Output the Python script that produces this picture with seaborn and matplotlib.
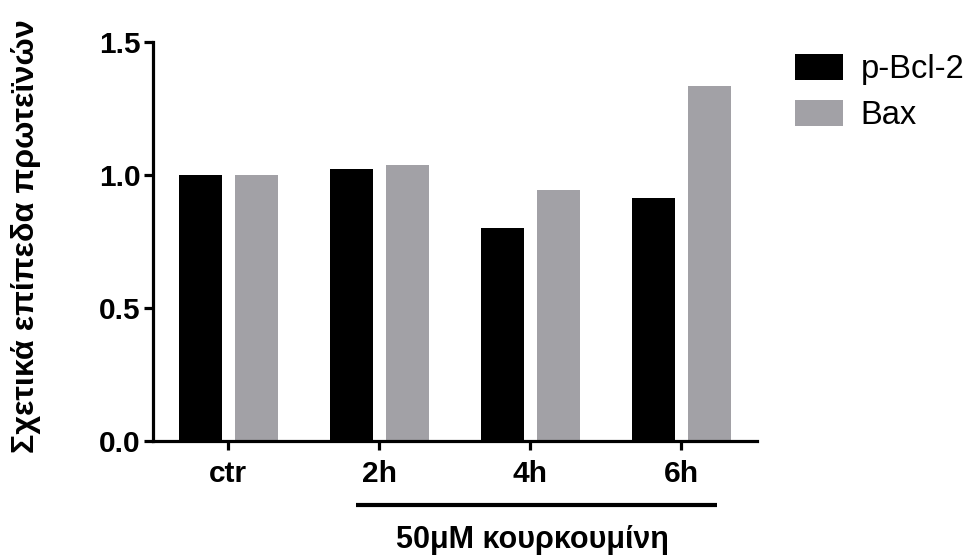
import matplotlib
matplotlib.use("Agg")
import matplotlib.pyplot as plt
import matplotlib.transforms as mtransforms
import seaborn as sns
import pandas as pd

# Relative protein levels per time point
categories = ["ctr", "2h", "4h", "6h"]
p_bcl2 = [1.00, 1.022, 0.80, 0.915]
bax = [1.00, 1.036, 0.945, 1.335]
series_names = ["p-Bcl-2", "Bax"]
y_ticks = [0.0, 0.5, 1.0, 1.5]
y_label = "Σχετικά επίπεδα πρωτεϊνών"
treatment_label = "50μM κουρκουμίνη"

df = pd.DataFrame({
    "time": categories * 2,
    "value": p_bcl2 + bax,
    "protein": [series_names[0]] * len(categories) + [series_names[1]] * len(categories),
})

sns.set_style("ticks")
plt.rcParams["font.family"] = ["Liberation Sans", "DejaVu Sans"]
plt.rcParams["text.color"] = "black"
plt.rcParams["axes.labelcolor"] = "black"
plt.rcParams["xtick.color"] = "black"
plt.rcParams["ytick.color"] = "black"

fig = plt.figure(figsize=(9.73, 5.57), dpi=100)
ax = fig.add_axes([0.157, 0.2083, 0.621, 0.7163])

palette = {"p-Bcl-2": "#000000", "Bax": "#a2a1a6"}
sns.barplot(data=df, x="time", y="value", hue="protein", order=categories,
            hue_order=series_names, palette=palette, width=0.748, gap=0.238,
            saturation=1, linewidth=0, ax=ax, legend=True)

ax.set_xlim(-0.5, 3.5)
ax.set_ylim(0, 1.5)
ax.set_yticks(y_ticks)
ax.set_yticklabels([f"{t:.1f}" for t in y_ticks])
ax.set_xlabel("")
ax.set_ylabel("")

for s in ["top", "right"]:
    ax.spines[s].set_visible(False)
for s in ["left", "bottom"]:
    ax.spines[s].set_linewidth(2.3)
    ax.spines[s].set_color("black")
ax.tick_params(axis="both", length=6.5, width=2.3, color="black", labelcolor="black")
ax.tick_params(axis="y", labelsize=21.5, pad=2)
ax.tick_params(axis="x", labelsize=21.5, pad=7)
for lab in ax.get_xticklabels() + ax.get_yticklabels():
    lab.set_fontweight("bold")

fig.text(0.027, 1 - 236 / 557, y_label, rotation=90, ha="center", va="center",
         fontsize=23.3, fontweight="bold", color="black")

# Bracket line under the treated time points
trans = mtransforms.blended_transform_factory(ax.transData, fig.transFigure)
ax.plot([0.846, 3.238], [1 - 505 / 557, 1 - 505 / 557], color="black",
        linewidth=3.0, transform=trans, clip_on=False, solid_capstyle="butt")
ax.text(2.012, 1 - 548 / 557, treatment_label, transform=trans,
        ha="center", va="baseline", fontsize=22, fontweight="bold", color="black")

handles, labels = ax.get_legend_handles_labels()
leg = ax.legend(handles, labels, loc="upper left", bbox_to_anchor=(0.817, 0.903),
                bbox_transform=fig.transFigure, frameon=False, fontsize=23.5,
                handlelength=1.47, handleheight=0.85, handletextpad=0.55,
                labelspacing=0.44, borderaxespad=0, borderpad=0)
for t in leg.get_texts():
    t.set_color("black")

fig.savefig("out.png", dpi=100)
